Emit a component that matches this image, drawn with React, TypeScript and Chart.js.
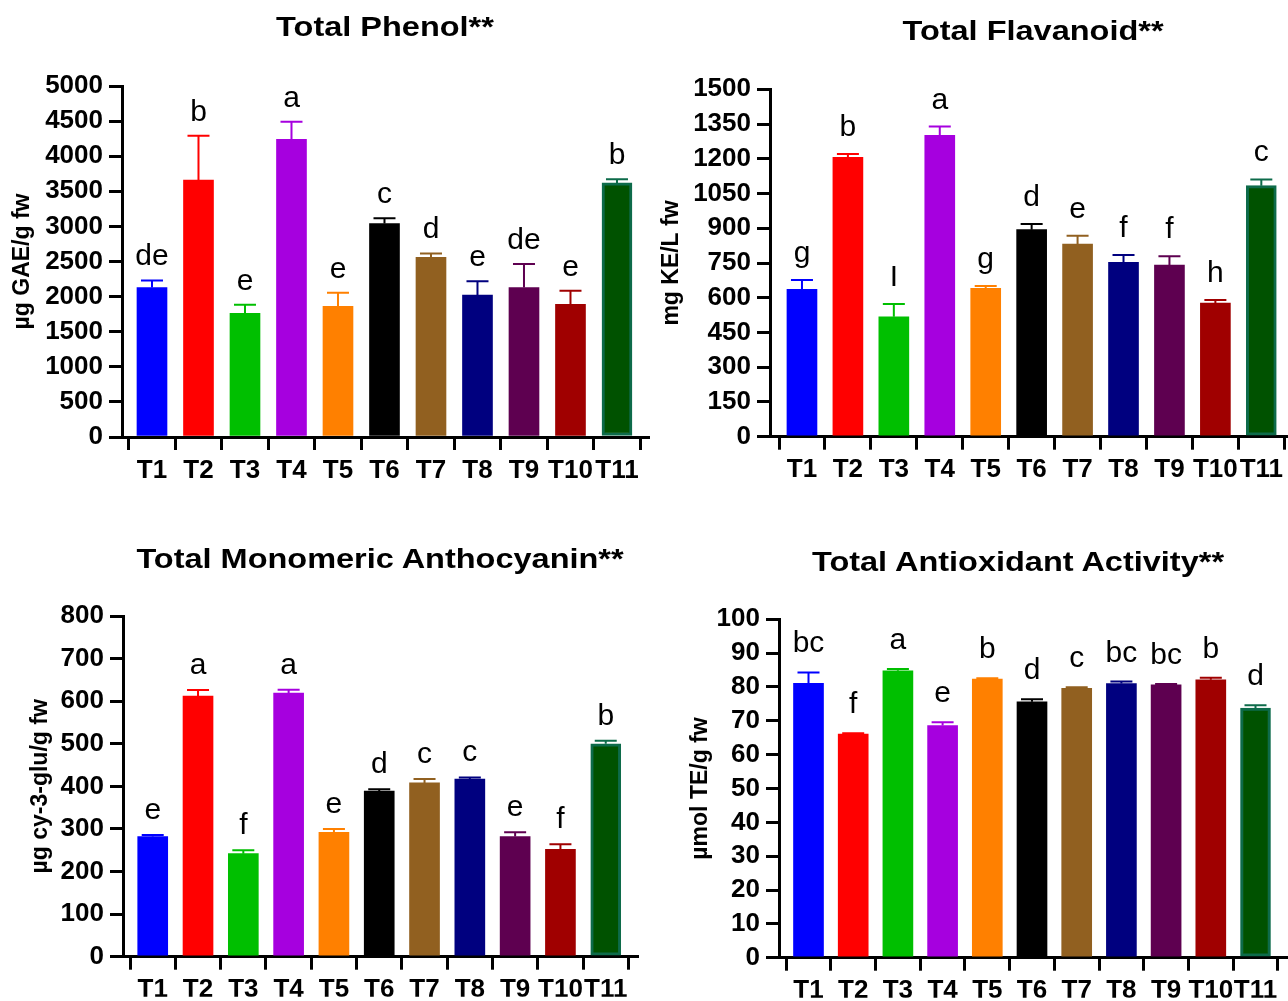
import React, { useEffect, useRef } from 'react';
import { Chart, registerables } from 'chart.js';

Chart.register(...registerables);
Chart.defaults.font.family = '"Liberation Sans", Arial, sans-serif';
Chart.defaults.color = '#000';

// ---------- data ----------
const categories = ['T1', 'T2', 'T3', 'T4', 'T5', 'T6', 'T7', 'T8', 'T9', 'T10', 'T11'];
const barColors = ['#0000FF', '#FF0000', '#00BF00', '#A600DF', '#FF8000', '#000000', '#916020', '#00007F', '#5E0050', '#A00000', '#005200'];
const barBorderColors = ['#0000FF', '#FF0000', '#00BF00', '#A600DF', '#FF8000', '#000000', '#916020', '#00007F', '#5E0050', '#A00000', '#0D6B4A'];
const errorColors = ['#0000FF', '#FF0000', '#00BF00', '#A600DF', '#FF8000', '#000000', '#916020', '#00007F', '#5E0050', '#A00000', '#0D6B4A'];
const barBorderWidths = [0, 0, 0, 0, 0, 0, 0, 0, 0, 0, 3];

const phenolValues = [2130, 3660, 1760, 4240, 1860, 3040, 2560, 2020, 2130, 1890, 3620];
const phenolErrors = [100, 630, 125, 250, 195, 75, 55, 200, 335, 195, 50];
const phenolLetters = ['de', 'b', 'e', 'a', 'e', 'c', 'd', 'e', 'de', 'e', 'b'];

const flavValues = [636, 1206, 518, 1301, 641, 894, 832, 753, 741, 577, 1084];
const flavErrors = [41, 15, 55, 38, 10, 24, 36, 32, 38, 13, 27];
const flavLetters = ['g', 'b', 'I', 'a', 'g', 'd', 'e', 'f', 'f', 'h', 'c'];

const anthoValues = [282, 612, 242, 619, 292, 389, 408, 417, 282, 252, 500];
const anthoErrors = [4, 14, 8, 8, 8, 4, 9, 4, 10, 12, 7];
const anthoLetters = ['e', 'a', 'f', 'a', 'e', 'd', 'c', 'c', 'e', 'f', 'b'];

const antioxValues = [81.1, 66.1, 84.8, 68.6, 82.3, 75.6, 79.6, 81.0, 80.6, 82.1, 73.8];
const antioxErrors = [3.2, 0.2, 0.5, 1.0, 0.3, 0.8, 0.3, 0.6, 0.3, 0.6, 0.8];
const antioxLetters = ['bc', 'f', 'a', 'e', 'b', 'd', 'c', 'bc', 'bc', 'b', 'd'];

const phenolAxis = { max: 5000, step: 500 };
const flavAxis = { max: 1500, step: 150 };
const anthoAxis = { max: 800, step: 100 };
const antioxAxis = { max: 100, step: 10 };

const titles = ['Total Phenol**', 'Total Flavanoid**', 'Total Monomeric Anthocyanin**', 'Total Antioxidant Activity**'];
const yTitles = ['µg GAE/g fw', 'mg KE/L fw', 'µg cy-3-glu/g fw', 'µmol TE/g fw'];

// ---------- layout ----------
const panels = [
  {
    left: 0, top: 0, width: 650, height: 500,
    padding: { left: 0, right: 2, top: 86, bottom: 3 }, xAxisHeight: 60,
    yWidth: 122, titlePad: 9, xMin: 0.355, xMax: 11.667,
    values: phenolValues, errors: phenolErrors, letters: phenolLetters, axis: phenolAxis,
    yTitle: yTitles[0], gap: 15, title: titles[0], titleCx: 385, titleTop: 13,
  },
  {
    left: 650, top: 0, width: 638, height: 500,
    padding: { left: 0, right: 0, top: 89.3, bottom: 3.3 }, xAxisHeight: 60,
    yWidth: 120, titlePad: 8, xMin: 0.304, xMax: 11.565,
    values: flavValues, errors: flavErrors, letters: flavLetters, axis: flavAxis,
    yTitle: yTitles[1], gap: 18, title: titles[1], titleCx: 1033, titleTop: 17,
  },
  {
    left: 0, top: 500, width: 650, height: 501,
    padding: { left: 0, right: 13, top: 116, bottom: 4.3 }, xAxisHeight: 40,
    yWidth: 123, titlePad: 27, xMin: 0.344, xMax: 11.69,
    values: anthoValues, errors: anthoErrors, letters: anthoLetters, axis: anthoAxis,
    yTitle: yTitles[2], gap: 16, title: titles[2], titleCx: 380, titleTop: 545,
  },
  {
    left: 650, top: 500, width: 638, height: 501,
    padding: { left: 0, right: 0, top: 119.3, bottom: 3.3 }, xAxisHeight: 40,
    yWidth: 129, titlePad: 37, xMin: 0.34, xMax: 11.727,
    values: antioxValues, errors: antioxErrors, letters: antioxLetters, axis: antioxAxis,
    yTitle: yTitles[3], gap: 20, title: titles[3], titleCx: 1018, titleTop: 548,
  },
];

type PanelDef = typeof panels[number];

function makeErrorPlugin(p: PanelDef) {
  return {
    id: 'errorLetters',
    afterDatasetsDraw(chart: any) {
      const ctx = chart.ctx;
      const meta = chart.getDatasetMeta(0);
      const yScale = chart.scales.y;
      meta.data.forEach((bar: any, i: number) => {
        const yTop = yScale.getPixelForValue(p.values[i] + p.errors[i]);
        const yBar = yScale.getPixelForValue(p.values[i]);
        ctx.save();
        ctx.strokeStyle = errorColors[i];
        ctx.lineWidth = 2;
        ctx.beginPath();
        ctx.moveTo(bar.x, yBar);
        ctx.lineTo(bar.x, yTop);
        ctx.moveTo(bar.x - 11, yTop);
        ctx.lineTo(bar.x + 11, yTop);
        ctx.stroke();
        ctx.fillStyle = '#000';
        ctx.font = '30px "Liberation Sans", Arial, sans-serif';
        ctx.textAlign = 'center';
        ctx.textBaseline = 'alphabetic';
        ctx.fillText(p.letters[i], bar.x, yTop - p.gap);
        ctx.restore();
      });
    },
  };
}

function Panel({ p }: { p: PanelDef }) {
  const ref = useRef<HTMLCanvasElement>(null);
  useEffect(() => {
    const axisGrid = {
      display: true,
      drawOnChartArea: false,
      drawTicks: true,
      tickLength: 13,
      lineWidth: 3,
      color: '#000',
    };
    const axisBorder = { display: true, color: '#000', width: 3 };
    const chart = new Chart(ref.current as HTMLCanvasElement, {
      type: 'bar',
      data: {
        datasets: [
          {
            data: p.values.map((v, i) => ({ x: i + 1, y: v })),
            backgroundColor: barColors,
            borderColor: barBorderColors,
            borderWidth: barBorderWidths,
            borderSkipped: false,
            barThickness: 30,
          } as any,
        ],
      },
      options: {
        responsive: false,
        animation: false,
        events: [],
        layout: { padding: p.padding },
        plugins: { legend: { display: false }, tooltip: { enabled: false } },
        scales: {
          x: {
            type: 'linear',
            min: p.xMin,
            max: p.xMax,
            offset: false,
            afterBuildTicks: (s: any) => {
              s.ticks = categories.map((_, i) => ({ value: i + 1 }));
            },
            afterFit: (s: any) => {
              s.height = p.xAxisHeight;
            },
            ticks: {
              callback: (v: any) => categories[Math.round(Number(v)) - 1] ?? '',
              autoSkip: false,
              maxRotation: 0,
              minRotation: 0,
              padding: 5,
              color: '#000',
              font: { size: 26, weight: 'bold' },
            },
            grid: axisGrid,
            border: axisBorder,
          } as any,
          y: {
            min: 0,
            max: p.axis.max,
            afterFit: (s: any) => {
              s.width = p.yWidth;
            },
            ticks: {
              stepSize: p.axis.step,
              autoSkip: false,
              padding: 6,
              color: '#000',
              font: { size: 26, weight: 'bold' },
              callback: (v: any) => String(v),
            },
            grid: axisGrid,
            border: axisBorder,
            title: {
              display: true,
              text: p.yTitle,
              color: '#000',
              font: { size: 23, weight: 'bold' },
              padding: { top: p.titlePad, bottom: 0 },
            },
          } as any,
        },
      },
      plugins: [makeErrorPlugin(p)],
    });
    return () => chart.destroy();
  }, []);
  return (
    <canvas
      ref={ref}
      width={p.width}
      height={p.height}
      style={{ position: 'absolute', left: p.left, top: p.top, width: p.width, height: p.height }}
    />
  );
}

export default function App() {
  return (
    <div style={{ position: 'absolute', left: 0, top: 0, width: 1288, height: 1001, background: '#fff', overflow: 'hidden' }}>
      {panels.map((p, i) => (
        <Panel key={i} p={p} />
      ))}
      {panels.map((p, i) => (
        <div
          key={'t' + i}
          style={{
            position: 'absolute',
            left: p.titleCx - 350,
            top: p.titleTop,
            width: 700,
            textAlign: 'center',
            fontFamily: '"Liberation Sans", Arial, sans-serif',
            fontWeight: 'bold',
            fontSize: 28,
            lineHeight: '28px',
            color: '#000',
            transform: 'scaleX(1.16)',
            whiteSpace: 'nowrap',
          }}
        >
          {p.title}
        </div>
      ))}
    </div>
  );
}
